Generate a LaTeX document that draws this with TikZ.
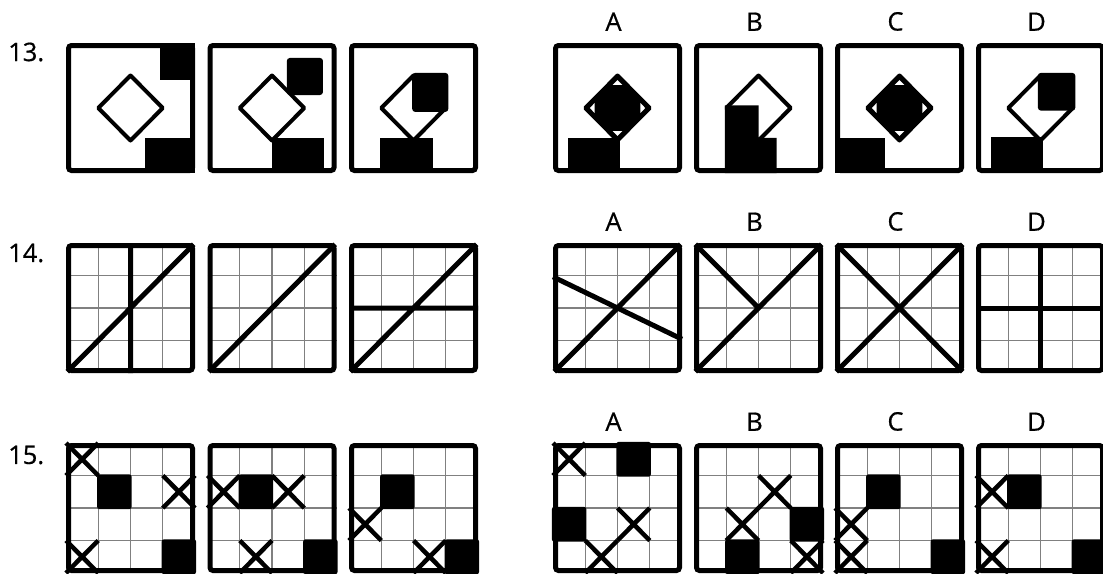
\documentclass[tikz,border=0pt]{standalone}
\usepackage{fontspec}
\setmainfont{Open Sans}[FakeBold=0.6]
\usetikzlibrary{positioning}
\tikzset{
  panel/.style={draw, line width=5pt, rounded corners=3pt, minimum width=124pt, minimum height=125pt, inner sep=0pt},
  rowno/.style={anchor=west, font=\fontsize{25.5}{30}\selectfont, inner sep=0pt},
  choice/.style={font=\fontsize{25.5}{30}\selectfont, inner sep=0pt},
  gridln/.style={draw=black!50, line width=1.3pt},
  heavy/.style={line width=5pt},
  rim/.style={line width=4pt, line join=round},
  xstroke/.style={line width=4.5pt},
  inside/.style 2 args={shift={(#1,#2)}, x=129pt, y=-130pt},
}
\newcommand{\quadgrid}{\draw[gridln] (0.25,0) -- (0.25,1) (0.5,0) -- (0.5,1) (0.75,0) -- (0.75,1)
  (0,0.25) -- (1,0.25) (0,0.5) -- (1,0.5) (0,0.75) -- (1,0.75);}
\newcommand{\diam}{\draw[rim] (0.5,0.25) -- (0.75,0.5) -- (0.5,0.75) -- (0.25,0.5) -- cycle;}
\newcommand{\fulldiam}{\fill (0.5,0.25) -- (0.75,0.5) -- (0.5,0.75) -- (0.25,0.5) -- cycle;
  \fill[white] (0.5,0.285) -- (0.538,0.323) -- (0.462,0.323) -- cycle
    (0.5,0.715) -- (0.538,0.677) -- (0.462,0.677) -- cycle
    (0.285,0.5) -- (0.323,0.538) -- (0.323,0.462) -- cycle
    (0.715,0.5) -- (0.677,0.538) -- (0.677,0.462) -- cycle;
  \diam}
\newcommand{\blk}[2]{\fill[rounded corners=2pt] ({#1/4-0.008},{#2/4-0.008}) rectangle ({(#1+1)/4+0.008},{(#2+1)/4+0.008});}
\newcommand{\crs}[2]{\draw[xstroke] ({#1/4},{#2/4}) -- ({(#1+1)/4},{(#2+1)/4}) ({(#1+1)/4},{#2/4}) -- ({#1/4},{(#2+1)/4});}

\begin{document}
\begin{tikzpicture}[x=1pt, y=-1pt]
  \useasboundingbox (0,0) rectangle (1103,573);

  \begin{scope}[inside={66}{43}]
    \diam
    \fill (0.73,0) rectangle (1,0.285);
    \fill (0.61,0.73) rectangle (1,1);
  \end{scope}
  \begin{scope}[inside={207.5}{43}]
    \diam
    \fill[rounded corners=3pt] (0.615,0.115) rectangle (0.895,0.40);
    \fill (0.5,0.73) rectangle (0.9,1);
  \end{scope}
  \begin{scope}[inside={349}{43}]
    \diam
    \fill[rounded corners=3pt] (0.49,0.23) rectangle (0.77,0.53);
    \fill (0.24,0.73) rectangle (0.65,1);
  \end{scope}
  \begin{scope}[inside={553}{43}]
    \fulldiam
    \fill (0.12,0.73) rectangle (0.52,1);
  \end{scope}
  \begin{scope}[inside={694}{43}]
    \diam
    \fill (0.24,0.48) -- (0.5,0.48) -- (0.5,0.73) -- (0.64,0.73) -- (0.64,1) -- (0.24,1) -- cycle;
  \end{scope}
  \begin{scope}[inside={835}{43}]
    \fulldiam
    \fill (0,0.73) rectangle (0.39,1);
  \end{scope}
  \begin{scope}[inside={976}{43}]
    \diam
    \fill[rounded corners=3pt] (0.48,0.23) rectangle (0.77,0.52);
    \fill (0.12,0.72) rectangle (0.52,1);
  \end{scope}

  \begin{scope}[inside={66}{243}]
    \quadgrid
    \draw[heavy] (0.5,0) -- (0.5,1) (0.01,0.99) -- (0.99,0.01);
  \end{scope}
  \begin{scope}[inside={207.5}{243}]
    \quadgrid
    \draw[heavy] (0.01,0.99) -- (0.99,0.01);
  \end{scope}
  \begin{scope}[inside={349}{243}]
    \quadgrid
    \draw[heavy] (0,0.5) -- (1,0.5) (0.01,0.99) -- (0.99,0.01);
  \end{scope}
  \begin{scope}[inside={553}{243}]
    \quadgrid
    \draw[heavy] (0.01,0.99) -- (0.99,0.01) (0,0.26) -- (1,0.74);
  \end{scope}
  \begin{scope}[inside={694}{243}]
    \quadgrid
    \draw[heavy] (0.01,0.99) -- (0.99,0.01) (0.01,0.01) -- (0.5,0.5);
  \end{scope}
  \begin{scope}[inside={835}{243}]
    \quadgrid
    \draw[heavy] (0.01,0.99) -- (0.99,0.01) (0.01,0.01) -- (0.99,0.99);
  \end{scope}
  \begin{scope}[inside={976}{243}]
    \quadgrid
    \draw[heavy] (0.5,0) -- (0.5,1) (0,0.5) -- (1,0.5);
  \end{scope}

  \begin{scope}[inside={66}{443}]
    \quadgrid
    \blk{1}{1} \blk{3}{3}
    \crs{0}{0} \crs{3}{1} \crs{0}{3}
  \end{scope}
  \begin{scope}[inside={207.5}{443}]
    \quadgrid
    \blk{1}{1} \blk{3}{3}
    \crs{0}{1} \crs{2}{1} \crs{1}{3}
  \end{scope}
  \begin{scope}[inside={349}{443}]
    \quadgrid
    \blk{1}{1} \blk{3}{3}
    \crs{0}{2} \crs{2}{3}
  \end{scope}
  \begin{scope}[inside={553}{443}]
    \quadgrid
    \blk{2}{0} \blk{0}{2}
    \crs{0}{0} \crs{2}{2} \crs{1}{3}
  \end{scope}
  \begin{scope}[inside={694}{443}]
    \quadgrid
    \blk{1}{3} \blk{3}{2}
    \crs{2}{1} \crs{1}{2} \crs{3}{3}
  \end{scope}
  \begin{scope}[inside={835}{443}]
    \quadgrid
    \blk{1}{1} \blk{3}{3}
    \crs{0}{2} \crs{0}{3}
  \end{scope}
  \begin{scope}[inside={976}{443}]
    \quadgrid
    \blk{1}{1} \blk{3}{3}
    \crs{0}{1} \crs{0}{3}
  \end{scope}

  \node[panel] (p13x1) at (130.5,108) {};
  \node[panel] (p13x2) at (272,108) {};
  \node[panel] (p13x3) at (413.5,108) {};
  \node[panel] (p13a) at (617.5,108) {};
  \node[panel] (p13b) at (758.5,108) {};
  \node[panel] (p13c) at (899.5,108) {};
  \node[panel] (p13d) at (1040.5,108) {};

  \node[panel] (p14x1) at (130.5,308) {};
  \node[panel] (p14x2) at (272,308) {};
  \node[panel] (p14x3) at (413.5,308) {};
  \node[panel] (p14a) at (617.5,308) {};
  \node[panel] (p14b) at (758.5,308) {};
  \node[panel] (p14c) at (899.5,308) {};
  \node[panel] (p14d) at (1040.5,308) {};

  \node[panel] (p15x1) at (130.5,508) {};
  \node[panel] (p15x2) at (272,508) {};
  \node[panel] (p15x3) at (413.5,508) {};
  \node[panel] (p15a) at (617.5,508) {};
  \node[panel] (p15b) at (758.5,508) {};
  \node[panel] (p15c) at (899.5,508) {};
  \node[panel] (p15d) at (1040.5,508) {};

  \node[rowno] (n13) at (8,52) {13.};
  \node[rowno] (n14) at (8,253) {14.};
  \node[rowno] (n15) at (8,455) {15.};

  \node[choice, above=12pt of p13a, xshift=-4pt] (l13a) {A};
  \node[choice, above=12pt of p13b, xshift=-4pt] (l13b) {B};
  \node[choice, above=12pt of p13c, xshift=-4pt] (l13c) {C};
  \node[choice, above=12pt of p13d, xshift=-4pt] (l13d) {D};
  \node[choice, above=12pt of p14a, xshift=-4pt] (l14a) {A};
  \node[choice, above=12pt of p14b, xshift=-4pt] (l14b) {B};
  \node[choice, above=12pt of p14c, xshift=-4pt] (l14c) {C};
  \node[choice, above=12pt of p14d, xshift=-4pt] (l14d) {D};
  \node[choice, above=12pt of p15a, xshift=-4pt] (l15a) {A};
  \node[choice, above=12pt of p15b, xshift=-4pt] (l15b) {B};
  \node[choice, above=12pt of p15c, xshift=-4pt] (l15c) {C};
  \node[choice, above=12pt of p15d, xshift=-4pt] (l15d) {D};
\end{tikzpicture}
\end{document}
